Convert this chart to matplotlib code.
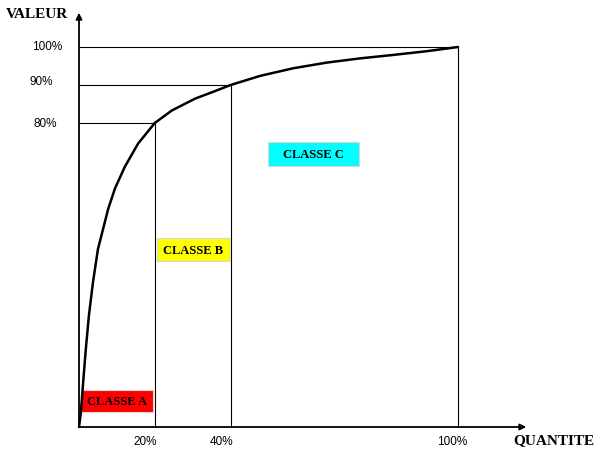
import matplotlib.pyplot as plt
from matplotlib.patches import Rectangle

# Pareto / ABC curve (% quantity vs % value)
quantite = [0, 0.5, 1.1, 1.8, 2.6, 3.7, 5.0, 7.7, 9.5, 12.1, 15.6, 20,
            24.5, 30.6, 35.9, 40, 47.8, 56.5, 65.4, 74.1, 82.8, 91.8, 100]
valeur = [0, 3.9, 11.8, 20.5, 29.2, 38.2, 46.8, 57.4, 62.8, 68.5, 74.6, 80,
          83.3, 86.4, 88.4, 90, 92.4, 94.4, 95.9, 97.0, 97.9, 98.9, 100]

# guide points (class limits)
seuils_x = [20, 40, 100]
seuils_y = [80, 90, 100]
x_labels = ["20%", "40%", "100%"]
y_labels = ["80%", "90%", "100%"]
classes = ["CLASSE A", "CLASSE B", "CLASSE C"]
class_colors = ["#ff0000", "#ffff00", "#00ffff"]

fig = plt.figure(figsize=(6.02, 4.60), dpi=100)
ax = fig.add_axes([79 / 602, 32 / 460, 379 / 602, 380 / 460])
ax.set_xlim(0, 100)
ax.set_ylim(0, 100)
ax.axis("off")

serif = "Liberation Serif"
sans = "Liberation Sans"

# axes with arrows
ax.annotate("", xy=(0, 109), xytext=(0, 0), annotation_clip=False,
            arrowprops=dict(arrowstyle="-|>", lw=1.3, color="black",
                            mutation_scale=9, shrinkA=0, shrinkB=0))
ax.annotate("", xy=(118, 0), xytext=(0, 0), annotation_clip=False,
            arrowprops=dict(arrowstyle="-|>", lw=1.3, color="black",
                            mutation_scale=9, shrinkA=0, shrinkB=0))

# guide lines
for sx, sy in zip(seuils_x, seuils_y):
    ax.plot([0, sx], [sy, sy], color="black", lw=0.8, clip_on=False)
    ax.plot([sx, sx], [0, sy], color="black", lw=0.8, clip_on=False)

# curve
ax.plot(quantite, valeur, color="black", lw=1.8, clip_on=False, zorder=5,
        solid_capstyle="round", solid_joinstyle="round")

# class boxes
boxes = [(0.5, 3.9, 19.0, 5.8), (20.6, 43.7, 19.2, 6.0), (49.9, 68.7, 24.0, 6.3)]
for (bx, by, bw, bh), name, col in zip(boxes, classes, class_colors):
    ax.add_patch(Rectangle((bx, by), bw, bh, facecolor=col,
                           edgecolor="#d8d8d8", lw=0.8, clip_on=False, zorder=3))
    ax.text(bx + bw / 2, by + bh / 2, name, ha="center", va="center",
            fontsize=9, fontweight="bold", family=serif, zorder=4)

# tick labels
for xl, pos in zip(x_labels, [17.4, 37.5, 98.4]):
    ax.text(pos, -3.7, xl, ha="center", va="center", fontsize=8.5, family=sans)
for yl, (px, py) in zip(y_labels, [(-9, 80), (-10, 91), (-8.4, 100.3)]):
    ax.text(px, py, yl, ha="center", va="center", fontsize=8.5, family=sans)

# axis titles
ax.text(-11.1, 108.9, "VALEUR", ha="center", va="center", fontsize=11,
        fontweight="bold", family=serif)
ax.text(125.3, -3.4, "QUANTITE", ha="center", va="center", fontsize=11,
        fontweight="bold", family=serif)

plt.savefig("out.png", dpi=100)
